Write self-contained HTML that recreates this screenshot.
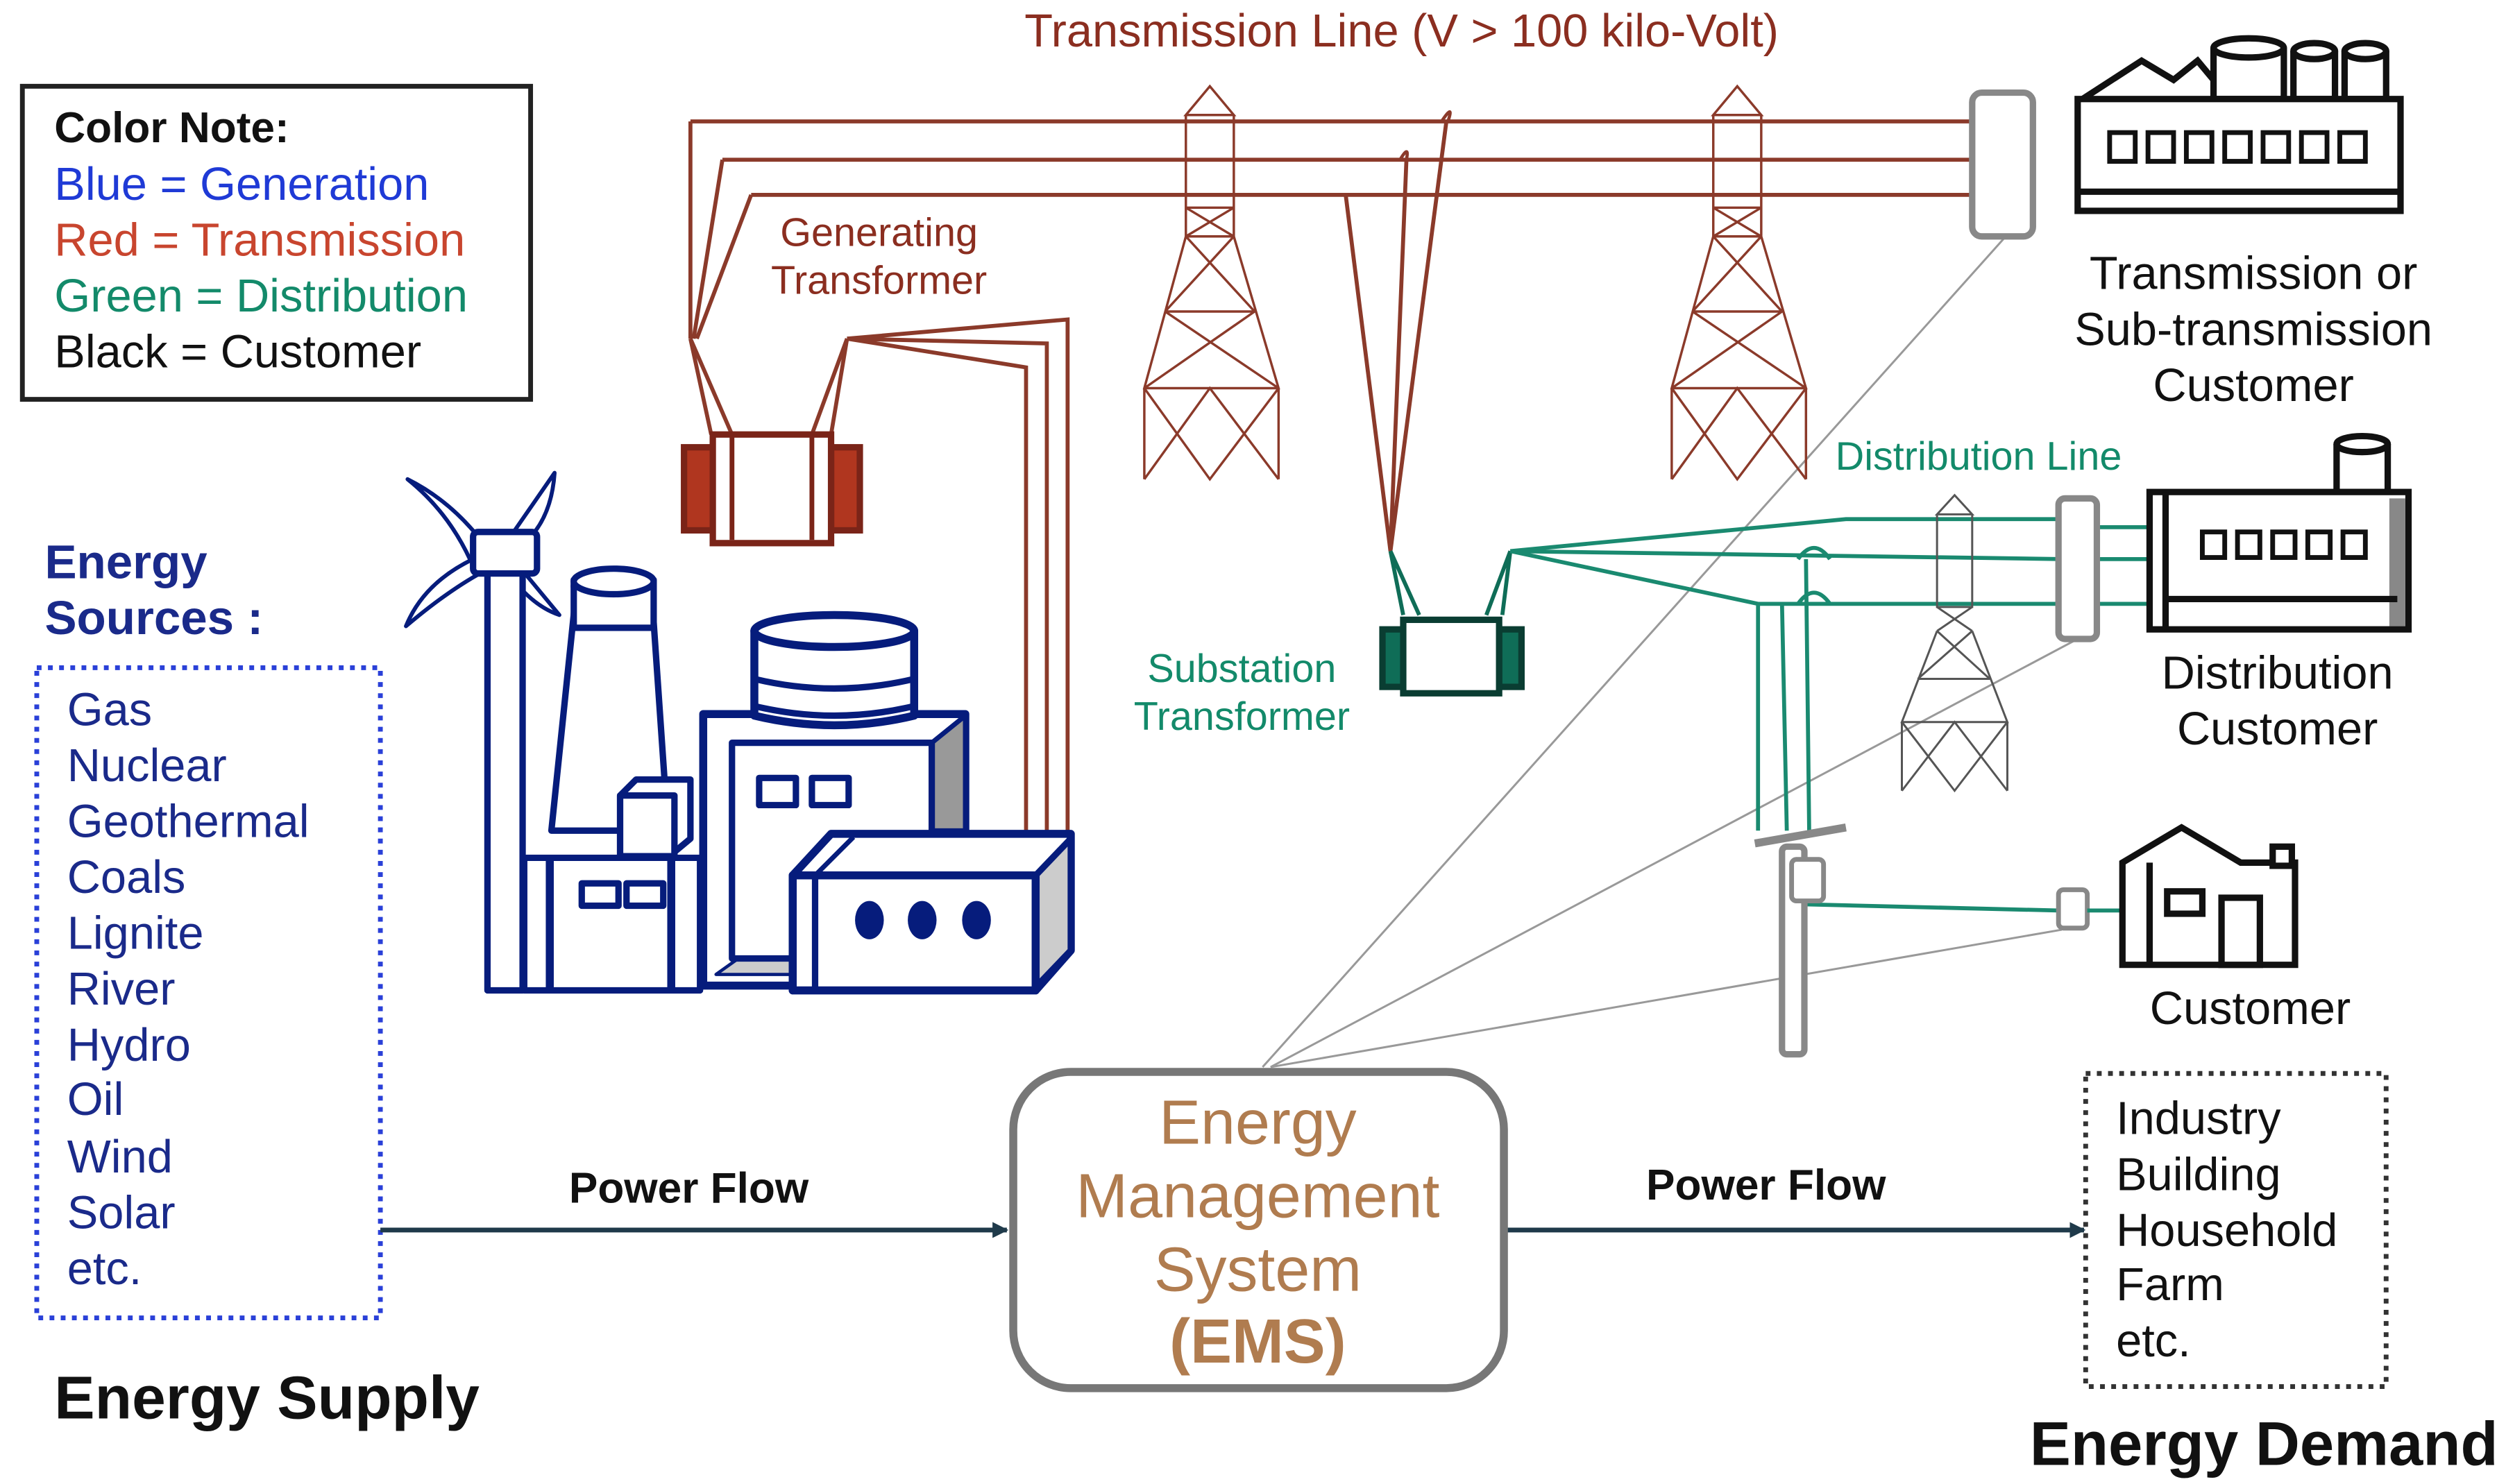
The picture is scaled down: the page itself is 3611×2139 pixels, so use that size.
<!DOCTYPE html>
<html><head><meta charset="utf-8"><style>
html,body{margin:0;padding:0;background:#fff;}
svg{display:block;}
text{font-family:"Liberation Sans",Arial,sans-serif;}
</style></head><body>
<svg width="3611" height="2139" viewBox="0 0 1568 929" preserveAspectRatio="none" xmlns="http://www.w3.org/2000/svg">
<defs>
<marker id="ar" markerWidth="10" markerHeight="10" refX="9" refY="5" orient="auto" markerUnits="userSpaceOnUse"><path d="M0,0 L10,5 L0,10 Z" fill="#1f3a4a"/></marker>
</defs>
<rect width="1568" height="929" fill="#fff"/>

<text x="877" y="29" font-size="29" fill="#8b2e20" text-anchor="middle">Transmission Line (V &gt; 100 kilo-Volt)</text>

<rect x="14" y="54" width="318" height="196" fill="none" stroke="#222" stroke-width="3"/>
<g font-size="29">
<text x="34" y="89" font-weight="bold" fill="#111" font-size="27">Color Note:</text>
<text x="34" y="125" fill="#1f3ad6">Blue = Generation</text>
<text x="34" y="160" fill="#c8452e">Red = Transmission</text>
<text x="34" y="195" fill="#138a6a">Green = Distribution</text>
<text x="34" y="230" fill="#111">Black = Customer</text>
</g>

<text x="28" y="362" font-size="30" font-weight="bold" fill="#1a2a8a">Energy</text>
<text x="28" y="397" font-size="30" font-weight="bold" fill="#1a2a8a">Sources :</text>
<rect x="23" y="418" width="215" height="407" fill="none" stroke="#2a40d8" stroke-width="3" stroke-dasharray="3,4"/>
<g font-size="29" fill="#1a2a8a">
<text x="42" y="454">Gas</text><text x="42" y="489">Nuclear</text><text x="42" y="524">Geothermal</text>
<text x="42" y="559">Coals</text><text x="42" y="594">Lignite</text><text x="42" y="629">River</text>
<text x="42" y="664">Hydro</text><text x="42" y="698">Oil</text><text x="42" y="734">Wind</text>
<text x="42" y="769">Solar</text><text x="42" y="804">etc.</text>
</g>
<text x="34" y="888" font-size="38" font-weight="bold" fill="#111">Energy Supply</text>

<line x1="238" y1="770" x2="630" y2="770" stroke="#1f3a4a" stroke-width="3" marker-end="url(#ar)"/>
<text x="431" y="753" font-size="27" font-weight="bold" text-anchor="middle" fill="#111">Power Flow</text>
<line x1="942" y1="770" x2="1304" y2="770" stroke="#1f3a4a" stroke-width="3" marker-end="url(#ar)"/>
<text x="1105" y="751" font-size="27" font-weight="bold" text-anchor="middle" fill="#111">Power Flow</text>

<rect x="634" y="671" width="307" height="198" rx="36" fill="#fff" stroke="#777" stroke-width="5"/>
<g font-size="39" fill="#b07c4f" text-anchor="middle">
<text x="787" y="716">Energy</text><text x="787" y="762">Management</text><text x="787" y="808">System</text>
<text x="787" y="853" font-weight="bold">(EMS)</text>
</g>

<rect x="1305" y="672" width="188" height="196" fill="none" stroke="#333" stroke-width="3" stroke-dasharray="3,4"/>
<g font-size="29" fill="#111">
<text x="1324" y="710">Industry</text><text x="1324" y="745">Building</text><text x="1324" y="780">Household</text>
<text x="1324" y="814">Farm</text><text x="1324" y="849">etc.</text>
</g>
<text x="1270" y="917" font-size="38.5" font-weight="bold" fill="#111">Energy Demand</text>

<g stroke="#999" stroke-width="1.3" fill="none">
<line x1="790" y1="668" x2="1255" y2="148"/>
<line x1="795" y1="668" x2="1300" y2="400"/>
<line x1="795" y1="668" x2="1290" y2="582"/>
</g>

<g stroke="#8b3a2a" stroke-width="2.5" fill="none">
<line x1="432" y1="76" x2="1235" y2="76"/>
<line x1="452" y1="100" x2="1235" y2="100"/>
<line x1="470" y1="122" x2="1235" y2="122"/>
<path d="M432,76 L432,212"/><path d="M452,100 L434,212"/><path d="M470,122 L436,212"/>
<path d="M432,212 L458,272"/><path d="M432,212 L445,272"/>
<path d="M530,212 L668,200 L668,525"/><path d="M530,212 L655,215 L655,530"/><path d="M530,212 L642,230 L642,535"/>
<path d="M530,212 L508,272"/><path d="M530,212 L520,272"/>
<path d="M842,122 L870,345"/><path d="M880,100 L870,345"/><path d="M905,76 L870,345"/>
</g>
<rect x="428" y="280" width="18" height="52" fill="#b0361f" stroke="#7a2418" stroke-width="4"/>
<rect x="520" y="280" width="18" height="52" fill="#b0361f" stroke="#7a2418" stroke-width="4"/>
<rect x="446" y="272" width="74" height="68" fill="#fff" stroke="#7a2418" stroke-width="4"/>
<line x1="458" y1="272" x2="458" y2="338" stroke="#7a2418" stroke-width="3"/>
<line x1="508" y1="272" x2="508" y2="338" stroke="#7a2418" stroke-width="3"/>
<text x="550" y="154" font-size="25" fill="#8b2e20" text-anchor="middle">Generating</text>
<text x="550" y="184" font-size="25" fill="#8b2e20" text-anchor="middle">Transformer</text>

<g stroke="#8b3a2a" stroke-width="1.5" fill="none">
<g id="tw">
<path d="M742,72 L757,54 L772,72 Z M742,72 L742,130 L772,130 L772,72 M742,130 L772,148 M772,130 L742,148 M742,148 L772,148 M742,130 L742,148 M772,130 L772,148 M742,148 L716,243 L800,243 L772,148 M742,148 L785,195 M772,148 L729,195 M729,195 L785,195 M729,195 L800,243 M785,195 L716,243 M716,243 L716,300 M800,243 L800,300 M716,243 L757,300 L800,243 M716,300 L757,243 L800,300"/>
</g>
<use href="#tw" transform="translate(330,0)"/>
</g>
<path d="M876,100 q6,-10 4,0 M902,76 q8,-12 4,0" stroke="#8b3a2a" stroke-width="2" fill="none"/>

<g stroke="#0f6d57" stroke-width="2.5" fill="none">
<path d="M870,345 L878,385 M870,345 L888,385 M945,345 L930,385 M945,345 L940,385"/>
</g>
<rect x="865" y="394" width="14" height="36" fill="#0f6d57" stroke="#0a3d32" stroke-width="4"/>
<rect x="938" y="394" width="14" height="36" fill="#0f6d57" stroke="#0a3d32" stroke-width="4"/>
<rect x="878" y="388" width="60" height="46" fill="#fff" stroke="#0a3d32" stroke-width="4"/>
<text x="777" y="427" font-size="25" fill="#138a6a" text-anchor="middle">Substation</text>
<text x="777" y="457" font-size="25" fill="#138a6a" text-anchor="middle">Transformer</text>

<g stroke="#1a8a70" stroke-width="2.5" fill="none">
<path d="M945,345 L1155,325 L1290,325"/>
<path d="M945,345 L1290,350"/>
<path d="M945,345 L1100,378 L1290,378"/>
<path d="M1100,378 L1100,520 M1115,378 L1118,520 M1130,350 L1132,520"/>
<path d="M1125,350 q10,-14 20,0 M1125,378 q10,-14 20,0"/>
<path d="M1125,566 L1288,570"/>
<path d="M1310,330 L1345,330 M1310,350 L1345,350 M1310,378 L1345,378"/>
</g>
<text x="1238" y="294" font-size="25" fill="#138a6a" text-anchor="middle">Distribution Line</text>
<g stroke="#555" stroke-width="1.3" fill="none">
<path d="M1212,322 L1223,310 L1234,322 Z M1212,322 L1212,380 L1234,380 L1234,322 M1212,380 L1234,395 M1234,380 L1212,395 M1212,395 L1190,452 L1256,452 L1234,395 M1212,395 L1245,425 M1234,395 L1200,425 M1200,425 L1245,425 M1190,452 L1190,495 M1256,452 L1256,495 M1190,452 L1223,495 L1256,452 M1190,495 L1223,452 L1256,495"/>
</g>
<rect x="1115" y="530" width="14" height="130" rx="3" fill="#fff" stroke="#888" stroke-width="4"/>
<line x1="1098" y1="528" x2="1155" y2="518" stroke="#888" stroke-width="5"/>
<rect x="1121" y="538" width="20" height="26" rx="3" fill="#fff" stroke="#888" stroke-width="3"/>

<rect x="1234" y="58" width="38" height="90" rx="6" fill="#fff" stroke="#888" stroke-width="4"/>
<g stroke="#111" stroke-width="4" fill="#fff">
<path d="M1303,62 L1340,38 L1360,50 L1375,38 L1395,62"/>
<path d="M1385,30 L1385,62 L1429,62 L1429,30"/><ellipse cx="1407" cy="30" rx="22" ry="6"/>
<path d="M1435,32 L1435,62 L1461,62 L1461,32"/><ellipse cx="1448" cy="32" rx="13" ry="5"/>
<path d="M1467,32 L1467,62 L1493,62 L1493,32"/><ellipse cx="1480" cy="32" rx="13" ry="5"/>
<rect x="1300" y="62" width="202" height="70" fill="#fff"/>
<line x1="1300" y1="120" x2="1502" y2="120"/>
</g>
<g fill="#fff" stroke="#111" stroke-width="3">
<rect x="1320" y="83" width="16" height="18"/><rect x="1344" y="83" width="16" height="18"/><rect x="1368" y="83" width="16" height="18"/><rect x="1392" y="83" width="16" height="18"/><rect x="1416" y="83" width="16" height="18"/><rect x="1440" y="83" width="16" height="18"/><rect x="1464" y="83" width="16" height="18"/>
</g>
<g font-size="29" fill="#111" text-anchor="middle">
<text x="1410" y="181">Transmission or</text><text x="1410" y="216">Sub-transmission</text><text x="1410" y="251">Customer</text>
</g>

<rect x="1288" y="312" width="24" height="88" rx="4" fill="#fff" stroke="#888" stroke-width="4"/>
<g stroke="#111" stroke-width="4" fill="#fff">
<path d="M1462,278 L1462,308 L1494,308 L1494,278"/><ellipse cx="1478" cy="278" rx="16" ry="5"/>
<rect x="1345" y="308" width="162" height="86" fill="#fff"/>
<rect x="1495" y="312" width="10" height="80" fill="#888" stroke="none"/>
<line x1="1355" y1="308" x2="1355" y2="394"/>
<line x1="1355" y1="375" x2="1500" y2="375"/>
</g>
<g fill="#fff" stroke="#111" stroke-width="3">
<rect x="1378" y="333" width="14" height="16"/><rect x="1400" y="333" width="14" height="16"/><rect x="1422" y="333" width="14" height="16"/><rect x="1444" y="333" width="14" height="16"/><rect x="1466" y="333" width="14" height="16"/>
</g>
<text x="1425" y="431" font-size="29" fill="#111" text-anchor="middle">Distribution</text>
<text x="1425" y="466" font-size="29" fill="#111" text-anchor="middle">Customer</text>

<rect x="1288" y="557" width="18" height="24" rx="3" fill="#fff" stroke="#888" stroke-width="3"/>
<line x1="1306" y1="570" x2="1328" y2="570" stroke="#1a8a70" stroke-width="2.5"/>
<g stroke="#111" stroke-width="4" fill="#fff">
<path d="M1328,540 L1365,518 L1402,540 L1436,540 L1436,604 L1328,604 Z"/>
<line x1="1345" y1="540" x2="1345" y2="604"/>
<rect x="1356" y="558" width="22" height="14"/>
<rect x="1390" y="562" width="24" height="42"/>
<rect x="1422" y="530" width="12" height="12"/>
</g>
<text x="1408" y="641" font-size="29" fill="#111" text-anchor="middle">Customer</text>

<g stroke="#061c7c" stroke-width="5" fill="#fff" stroke-linejoin="round">
<path d="M306,345 L294,350 Q280,320 255,300 Q285,315 306,345 Z" stroke-width="2.5"/>
<path d="M320,335 L347,296 Q345,325 328,340 Z" stroke-width="2.5"/>
<path d="M296,350 Q265,365 254,392 Q280,370 302,358 Z" stroke-width="2.5"/>
<path d="M326,356 L350,385 Q335,380 322,364 Z" stroke-width="2.5"/>
<rect x="305" y="358" width="22" height="262" stroke-width="4"/>
<rect x="296" y="333" width="40" height="26" rx="3" stroke-width="4"/>
<path d="M345,520 L360,375 L408,375 L418,520 Z" stroke-width="4"/>
<ellipse cx="384" cy="367" rx="25" ry="8" stroke-width="4"/>
<rect x="359" y="363" width="50" height="30" stroke-width="4"/>
<ellipse cx="384" cy="364" rx="25" ry="8" stroke-width="4"/>
<rect x="328" y="537" width="110" height="83" stroke-width="4"/>
<line x1="344" y1="537" x2="344" y2="620"/>
<line x1="420" y1="537" x2="420" y2="620"/>
<rect x="364" y="553" width="23" height="14" stroke-width="4"/><rect x="392" y="553" width="23" height="14" stroke-width="4"/>
<path d="M388,535 L388,498 L398,488 L432,488 L432,525 L420,535 Z" stroke-width="4"/>
<rect x="388" y="498" width="34" height="38" stroke-width="4"/>
<rect x="440" y="447" width="164" height="170" stroke-width="5"/>
<path d="M583,465 L604,448 L604,520 L583,520 Z" fill="#999" stroke-width="3"/>
<path d="M462,600 L583,600 L583,610 L448,610 Z" fill="#ccc" stroke-width="2"/>
<rect x="458" y="465" width="125" height="135" stroke-width="4"/>
<rect x="475" y="487" width="23" height="17" stroke-width="4"/><rect x="508" y="487" width="23" height="17" stroke-width="4"/>
<path d="M472,395 L472,448 Q522,460 572,448 L572,395 Z" stroke-width="5"/>
<ellipse cx="522" cy="395" rx="50" ry="10" stroke-width="5"/>
<path d="M472,425 Q522,437 572,425 M472,442 Q522,454 572,442" fill="none" stroke-width="4"/>
<path d="M496,548 L520,522 L670,522 L670,595 L648,620 L496,620 Z" stroke-width="5"/>
<path d="M648,548 L670,525 L670,595 L648,618 Z" fill="#ccc" stroke-width="4"/>
<rect x="496" y="548" width="152" height="72" stroke-width="5"/>
<line x1="510" y1="548" x2="510" y2="620" stroke-width="4"/>
<line x1="510" y1="548" x2="534" y2="524" stroke-width="3"/>
</g>
<g fill="#061c7c"><ellipse cx="544" cy="576" rx="9" ry="12"/><ellipse cx="577" cy="576" rx="9" ry="12"/><ellipse cx="611" cy="576" rx="9" ry="12"/></g>
</svg>
</body></html>
